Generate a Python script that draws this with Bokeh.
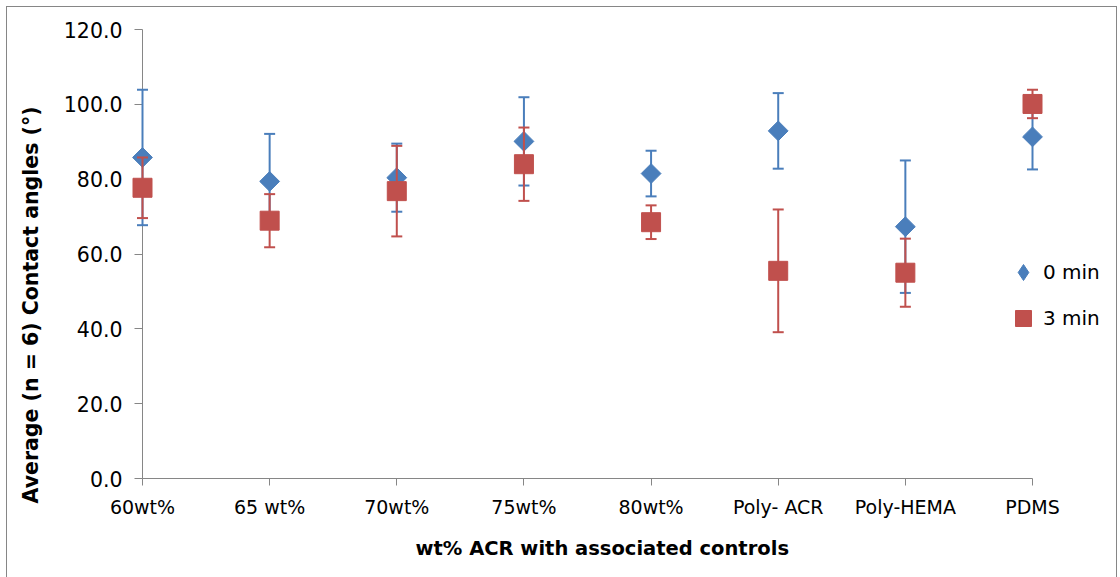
import numpy as np
from bokeh.plotting import figure
from bokeh.models import Range1d, FixedTicker, NumeralTickFormatter, Legend, LegendItem, Title
from bokeh.embed import file_html
from bokeh.resources import INLINE

# ---- data ----
categories = ["60wt%", "65 wt%", "70wt%", "75wt%", "80wt%", "Poly- ACR", "Poly-HEMA", "PDMS"]
mean_0min = [85.8, 79.4, 80.4, 90.1, 81.5, 92.9, 67.3, 91.3]
err_0min = [18.1, 12.7, 9.1, 11.8, 6.1, 10.1, 17.7, 8.7]
mean_3min = [77.7, 68.9, 76.8, 84.0, 68.5, 55.5, 55.0, 100.1]
err_3min = [8.1, 7.1, 12.1, 9.8, 4.5, 16.4, 9.1, 3.8]
y_ticks = [0, 20, 40, 60, 80, 100, 120]
series_labels = ["0 min", "3 min"]
x_title = "wt% ACR with associated controls"
y_title = "Average (n = 6) Contact angles (°)"

BLUE = "#4A7EBB"
RED = "#C0504D"
AXIS = "#868686"
FONT = "DejaVu Sans"

xs = list(range(len(categories)))
m0 = np.array(mean_0min); e0 = np.array(err_0min)
m3 = np.array(mean_3min); e3 = np.array(err_3min)

# frame: left 142, right 1113 (extra room on the right for the legend), top 29, bottom 478
n_last = len(categories) - 1
x_end = n_last * (1113 - 142) / (1032 - 142)

p = figure(width=1120, height=577, output_backend="svg", toolbar_location=None,
           x_range=Range1d(0, x_end), y_range=Range1d(y_ticks[0], y_ticks[-1]),
           min_border_left=142, min_border_right=7, min_border_top=29, min_border_bottom=99)
p.styles = {"box-shadow": ("inset 6px 0 0 0 white, inset 0 6px 0 0 white, inset -3px 0 0 0 white, "
                           "inset 7px 0 0 0 #868686, inset 0 7px 0 0 #868686, inset -4px 0 0 0 #868686")}
p.border_fill_color = None
p.background_fill_color = "white"
p.xgrid.visible = False
p.ygrid.visible = False
p.outline_line_color = None

# x axis
xa = p.xaxis[0]
xa.ticker = FixedTicker(ticks=xs)
xa.bounds = (0, n_last)
xa.major_label_overrides = {i: c for i, c in enumerate(categories)}
xa.axis_line_color = AXIS
xa.major_tick_line_color = AXIS
xa.major_tick_out = 7
xa.major_tick_in = 0
xa.minor_tick_line_color = None
xa.major_label_text_font = FONT
xa.major_label_text_font_size = "19px"
xa.major_label_text_color = "black"
xa.major_label_standoff = 10

# y axis
ya = p.yaxis[0]
ya.ticker = FixedTicker(ticks=y_ticks)
ya.formatter = NumeralTickFormatter(format="0.0")
ya.axis_line_color = AXIS
ya.major_tick_line_color = AXIS
ya.major_tick_out = 8
ya.major_tick_in = 0
ya.minor_tick_line_color = None
ya.major_label_text_font = FONT
ya.major_label_text_font_size = "20.5px"
ya.major_label_text_color = "black"
ya.major_label_standoff = 12

# axis titles (as side titles so they can be offset like the reference)
p.add_layout(Title(text=x_title, align="left", offset=273, vertical_align="middle", standoff=30,
                   text_font=FONT, text_font_size="19.5px", text_font_style="bold",
                   text_color="black"), "below")
p.add_layout(Title(text=y_title, align="left", offset=-25, vertical_align="middle", standoff=34,
                   text_font=FONT, text_font_size="20.5px", text_font_style="bold",
                   text_color="black"), "left")

# 0 min series: error bars then markers
p.segment(x0=xs, y0=m0 - e0, x1=xs, y1=m0 + e0, line_color=BLUE, line_width=2, level="overlay")
p.scatter(xs + xs, list(m0 - e0) + list(m0 + e0), marker="dash", size=11,
          line_color=BLUE, line_width=2, level="overlay")
r0 = p.scatter(xs, m0, marker="square", angle=np.pi / 4, size=14,
               fill_color=BLUE, line_color=BLUE, level="overlay")

# 3 min series
p.segment(x0=xs, y0=m3 - e3, x1=xs, y1=m3 + e3, line_color=RED, line_width=2, level="overlay")
p.scatter(xs + xs, list(m3 - e3) + list(m3 + e3), marker="dash", size=11,
          line_color=RED, line_width=2, level="overlay")
r3 = p.scatter(xs, m3, marker="square", size=19, fill_color=RED, line_color=RED, level="overlay")

# legend proxy (diamond shape for the legend swatch)
proxy = p.scatter(xs, m0, marker="diamond", fill_color=BLUE, line_color=BLUE, visible=False)

legend = Legend(items=[LegendItem(label=series_labels[0], renderers=[proxy]),
                       LegendItem(label=series_labels[1], renderers=[r3])],
                location=(861, 138), glyph_width=40, glyph_height=44, label_standoff=0,
                spacing=2, padding=0, margin=0, border_line_alpha=0, background_fill_alpha=0,
                inactive_fill_alpha=0, label_text_font=FONT, label_text_font_size="20px",
                label_text_color="black")
p.add_layout(legend)

open("out.html", "w").write(file_html(p, INLINE))
